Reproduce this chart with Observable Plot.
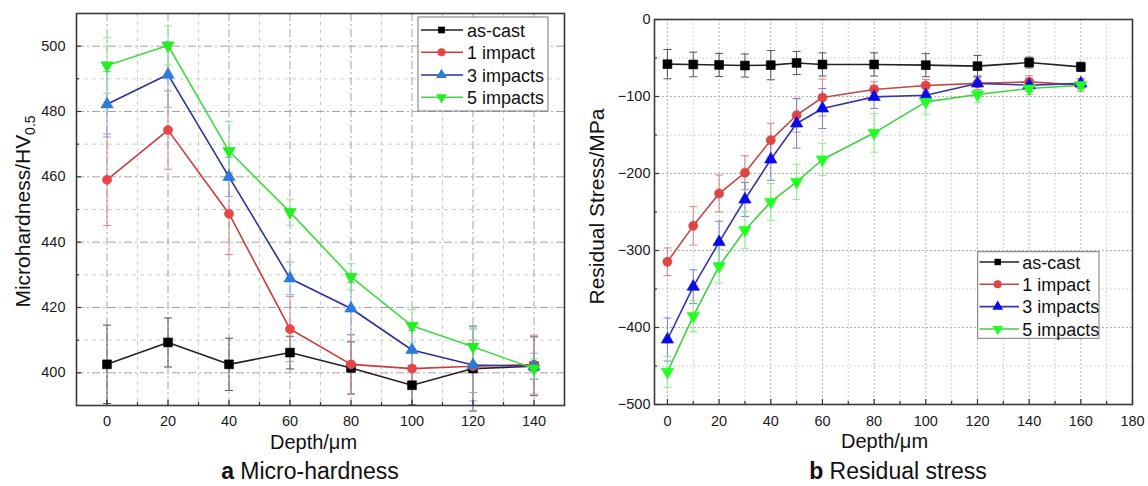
<!DOCTYPE html>
<html><head><meta charset="utf-8">
<script src="https://cdn.jsdelivr.net/npm/d3@7"></script>
<script src="https://cdn.jsdelivr.net/npm/@observablehq/plot@0.6"></script>
<style>
body{margin:0;background:#fff;font-family:"Liberation Sans",Arial,sans-serif;}
#wrap{position:relative;width:1148px;height:486px;overflow:hidden;}
.panel{position:absolute;top:0;}
.cap{position:absolute;top:460px;font-size:23px;line-height:23px;white-space:nowrap;transform:translateX(-50%);color:#111;}
</style></head><body><div id="wrap">
<div id="pa" class="panel" style="left:0"></div>
<div id="pb" class="panel" style="left:574px"></div>
<div class="cap" style="left:310px"><b>a</b> Micro-hardness</div>
<div class="cap" style="left:898px"><b>b</b> Residual stress</div>
</div>
<script>
// ---------- data ----------
const seriesNames = ["as-cast", "1 impact", "3 impacts", "5 impacts"];

// panel a: micro-hardness
const depthA = [0, 20, 40, 60, 80, 100, 120, 140];
const hvAsCast = [402.6, 409.3, 402.6, 406.2, 401.5, 396.2, 401.3, 402.0];
const hvAsCastErr = [12, 7.5, 8, 5, 8, 6, 13, 9];
const hv1 = [459.1, 474.3, 448.7, 413.4, 402.6, 401.3, 402.0, 402.5];
const hv1Err = [14, 12, 12.5, 10, 9, 6, 8, 9];
const hv3 = [482.2, 491.3, 460.0, 428.9, 419.7, 407.0, 402.4, 402.0];
const hv3Err = [10, 10, 6, 5, 8, 6, 11, 4];
const hv5 = [494.1, 500.2, 467.9, 449.2, 429.4, 414.4, 408.0, 401.3];
const hv5Err = [8.5, 6, 9, 4, 4, 5, 6, 3];
const ticksXA = [0, 20, 40, 60, 80, 100, 120, 140];
const minorXA = [10, 30, 50, 70, 90, 110, 130];
const ticksYA = [400, 420, 440, 460, 480, 500];
const minorYA = [410, 430, 450, 470, 490];

// panel b: residual stress
const depthB = [0, 10, 20, 30, 40, 50, 60, 80, 100, 120, 140, 160];
const rsAsCast = [-58, -58.4, -59, -59.8, -59.3, -56.4, -58.4, -58.4, -59.3, -60.6, -55.9, -61.5];
const rsAsCastErr = [19, 16, 15, 15, 19, 15, 15, 15, 15, 14, 7, 6];
const rs1 = [-314.7, -268, -226, -199, -156.7, -124.3, -101.3, -91, -85.7, -83, -81, -85];
const rs1Err = [18, 25, 24, 22, 22, 22, 24, 10, 8, 8, 8, 8];
const rs3 = [-415.6, -347, -289, -233.8, -181.8, -135, -115.6, -100.5, -98.3, -83, -85.3, -83];
const rs3Err = [28, 22, 27, 22, 27, 32, 26, 15, 10, 10, 8, 6];
const rs5 = [-457.6, -385.3, -320.4, -273.6, -236.8, -210.9, -181.8, -147.3, -107, -97.4, -89.6, -85.3];
const rs5Err = [20, 20, 22, 24, 24, 23, 21, 25, 16, 10, 8, 5];
const ticksXB = [0, 20, 40, 60, 80, 100, 120, 140, 160, 180];
const minorXB = [10, 30, 50, 70, 90, 110, 130, 150, 170];
const ticksYB = [-500, -400, -300, -200, -100, 0];
const minorYB = [-450, -350, -250, -150, -50];

// ---------- styles ----------
const lineColorsA = ["#222222", "#cc3b3b", "#2b2f9c", "#3fdc3f"];
const markerColorsA = ["#000000", "#e84646", "#2d7bd8", "#22ee22"];
const errColorsA = ["#555555", "#d98a8a", "#86a8d8", "#8ee68e"];
const lineColorsB = ["#222222", "#c44545", "#3636a8", "#40d040"];
const markerColorsB = ["#000000", "#e04545", "#0a0ae8", "#22ff22"];
const errColorsB = ["#555555", "#d08585", "#8080d0", "#88ee88"];

const triDown = {draw(ctx, size) {
  const y = Math.sqrt(size / (Math.sqrt(3) * 3)), s3 = Math.sqrt(3);
  ctx.moveTo(0, y * 2); ctx.lineTo(-s3 * y, -y); ctx.lineTo(s3 * y, -y); ctx.closePath();
}};
const capSym = {draw(ctx) { ctx.moveTo(-4, 0); ctx.lineTo(4, 0); }};
const symbols = [d3.symbolSquare, d3.symbolCircle, d3.symbolTriangle, triDown];
const markerR = [5, 4.6, 4.6, 4.6];

function makePanel(cfg) {
  const W = 574, H = 455;
  const innerW = W - cfg.ml - cfg.mr, innerH = H - cfg.mt - cfg.mb;
  const marks = [
    Plot.ruleX(cfg.minorX, {stroke: cfg.gridMinor, strokeDasharray: cfg.minorDash, strokeWidth: 1}),
    Plot.ruleY(cfg.minorY, {stroke: cfg.gridMinor, strokeDasharray: cfg.minorDash, strokeWidth: 1}),
    Plot.ruleX(cfg.ticksX, {stroke: cfg.gridMajor, strokeDasharray: cfg.majorDash, strokeWidth: 1}),
    Plot.ruleY(cfg.ticksY, {stroke: cfg.gridMajor, strokeDasharray: cfg.majorDash, strokeWidth: 1})
  ];
  const tables = cfg.values.map((vals, i) => cfg.depth.map((d, j) => ({
    depth: d, value: vals[j], lo: vals[j] - cfg.errs[i][j], hi: vals[j] + cfg.errs[i][j]
  })));
  tables.forEach((rows, i) => {
    marks.push(Plot.ruleX(rows, {x: "depth", y1: "lo", y2: "hi", stroke: cfg.errColors[i], strokeWidth: 1}));
    marks.push(Plot.dot(rows, {x: "depth", y: "hi", symbol: capSym, stroke: cfg.errColors[i], fill: "none", strokeWidth: 1}));
    marks.push(Plot.dot(rows, {x: "depth", y: "lo", symbol: capSym, stroke: cfg.errColors[i], fill: "none", strokeWidth: 1}));
  });
  tables.forEach((rows, i) => {
    marks.push(Plot.line(rows, {x: "depth", y: "value", stroke: cfg.lineColors[i], strokeWidth: 1.6}));
  });
  tables.forEach((rows, i) => {
    marks.push(Plot.dot(rows, {x: "depth", y: "value", symbol: symbols[i], r: markerR[i],
      fill: cfg.markerColors[i], stroke: cfg.markerColors[i], strokeWidth: 0.6}));
  });
  // inward ticks
  marks.push(Plot.ruleX(cfg.ticksX, {insetTop: innerH - 5, stroke: "#333", strokeWidth: 1.2}));
  marks.push(Plot.ruleX(cfg.minorX, {insetTop: innerH - 3, stroke: "#333", strokeWidth: 1.2}));
  marks.push(Plot.ruleY(cfg.ticksY, {insetRight: innerW - 5, stroke: "#333", strokeWidth: 1.2}));
  marks.push(Plot.ruleY(cfg.minorY, {insetRight: innerW - 3, stroke: "#333", strokeWidth: 1.2}));
  // tick labels
  marks.push(Plot.axisX(cfg.ticksX, {anchor: "bottom", tickSize: 0, tickPadding: cfg.padX, label: null}));
  marks.push(Plot.axisY(cfg.ticksY, {anchor: "left", tickSize: 0, tickPadding: cfg.padY, label: null}));
  marks.push(Plot.frame({stroke: "#3a3a3a", strokeWidth: 1.6}));

  const svg = Plot.plot({
    width: W, height: H,
    marginLeft: cfg.ml, marginRight: cfg.mr, marginTop: cfg.mt, marginBottom: cfg.mb,
    x: {domain: cfg.xDomain},
    y: {domain: cfg.yDomain},
    style: {fontFamily: "'Liberation Sans', Arial, sans-serif", fontSize: "14.5px", color: "#1a1a1a", background: "transparent", overflow: "visible"},
    marks
  });
  const s = d3.select(svg);
  // axis titles
  s.append("text").attr("x", cfg.xLabelX).attr("y", cfg.xLabelY).attr("text-anchor", "middle")
    .attr("font-size", 20).attr("fill", "#111").text("Depth/μm");
  const yl = s.append("text").attr("transform", `translate(${cfg.yLabelX},${cfg.yLabelY}) rotate(-90)`)
    .attr("text-anchor", "middle").attr("font-size", 21).attr("fill", "#111");
  yl.append("tspan").text(cfg.yLabel);
  if (cfg.yLabelSub) yl.append("tspan").attr("dy", 5).attr("font-size", 14).text(cfg.yLabelSub);
  // legend
  const L = cfg.legend;
  const g = s.append("g").attr("text-anchor", "start");
  g.append("rect").attr("x", L.x).attr("y", L.y).attr("width", L.w).attr("height", L.h)
    .attr("fill", "#fff").attr("stroke", "#777").attr("stroke-width", 1);
  seriesNames.forEach((name, i) => {
    const yy = L.rows[i];
    g.append("line").attr("x1", L.lx1).attr("x2", L.lx2).attr("y1", yy).attr("y2", yy)
      .attr("stroke", cfg.lineColors[i]).attr("stroke-width", 1.6);
    const area = Math.PI * L.mr[i] * L.mr[i];
    g.append("path").attr("d", d3.symbol().type(symbols[i]).size(area)())
      .attr("transform", `translate(${L.mx},${yy})`).attr("fill", cfg.markerColors[i]);
    g.append("text").attr("x", L.tx).attr("y", yy + 6.5).attr("text-anchor", "start")
      .attr("font-size", 18).attr("fill", "#111").text(name);
  });
  return svg;
}

document.getElementById("pa").appendChild(makePanel({
  ml: 76, mr: 10, mt: 13, mb: 50,
  xDomain: [-10, 150], yDomain: [390, 510],
  depth: depthA, values: [hvAsCast, hv1, hv3, hv5], errs: [hvAsCastErr, hv1Err, hv3Err, hv5Err],
  ticksX: ticksXA, minorX: minorXA, ticksY: ticksYA, minorY: minorYA,
  gridMajor: "#a3a3a3", gridMinor: "#cdcdcd", majorDash: "8,3,2,3", minorDash: "4,4",
  lineColors: lineColorsA, markerColors: markerColorsA, errColors: errColorsA,
  padX: 10, padY: 11,
  xLabelX: 313.5, xLabelY: 449, yLabelX: 30, yLabelY: 211.5,
  yLabel: "Microhardness/HV", yLabelSub: "0.5",
  legend: {x: 418, y: 17, w: 130, h: 94, rows: [30, 52.3, 75, 97.3], lx1: 421, lx2: 463, mx: 441.5, tx: 467, mr: [3.8, 4, 4, 4]}
}));

document.getElementById("pb").appendChild(makePanel({
  ml: 80, mr: 16, mt: 19, mb: 51,
  xDomain: [-5, 180], yDomain: [-500, 0],
  depth: depthB, values: [rsAsCast, rs1, rs3, rs5], errs: [rsAsCastErr, rs1Err, rs3Err, rs5Err],
  ticksX: ticksXB, minorX: minorXB, ticksY: ticksYB, minorY: minorYB,
  gridMajor: "#b3b3b3", gridMinor: "#d3d3d3", majorDash: "2,2", minorDash: "2,2",
  lineColors: lineColorsB, markerColors: markerColorsB, errColors: errColorsB,
  padX: 11, padY: 4,
  xLabelX: 310.5, xLabelY: 448, yLabelX: 30, yLabelY: 206.5,
  yLabel: "Residual Stress/MPa", yLabelSub: null,
  legend: {x: 403.7, y: 251.7, w: 121.3, h: 86.6, rows: [262, 284.3, 306.6, 329], lx1: 405.5, lx2: 445, mx: 423.7, tx: 448.3, mr: [3.6, 4, 4, 4]}
}));
</script>
</body></html>
